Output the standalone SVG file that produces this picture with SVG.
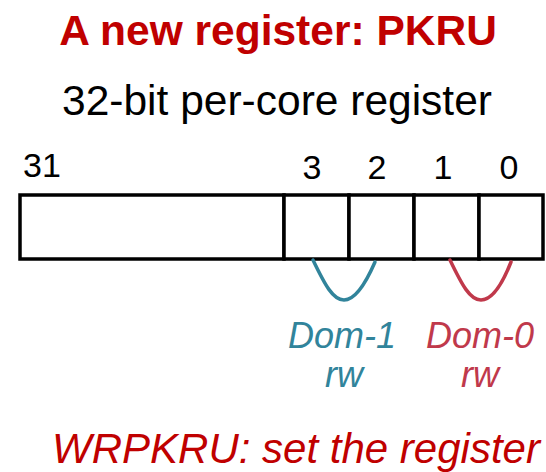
<svg xmlns="http://www.w3.org/2000/svg" width="546" height="472" viewBox="0 0 546 472">
  <style>
    text { font-family: "Liberation Sans", Arial, sans-serif; }
    .title { font-size: 42.5px; font-weight: bold; fill: #c00000; text-anchor: middle; }
    .sub { font-size: 42.5px; fill: #000; text-anchor: middle; }
    .bit { font-size: 34px; fill: #000; text-anchor: middle; }
    .cell { fill: #fff; stroke: #000; stroke-width: 3.5; }
    .dom { font-size: 36px; font-style: italic; text-anchor: middle; }
    .d1 { fill: #31849b; }
    .d0 { fill: #c0394b; }
    .arc { fill: none; stroke-width: 3.5; stroke-linecap: round; }
    .note { font-size: 42px; font-style: italic; fill: #c00000; text-anchor: middle; }
  </style>

  <g id="title">
    <text class="title" x="278" y="45">A new register: PKRU</text>
  </g>
  <g id="subtitle">
    <text class="sub" x="277" y="115">32-bit per-core register</text>
  </g>

  <!-- bit numbers -->
  <g id="bit-labels">
    <text class="bit" x="42" y="177">31</text>
    <text class="bit" x="312" y="179">3</text>
    <text class="bit" x="377" y="179">2</text>
    <text class="bit" x="443" y="179">1</text>
    <text class="bit" x="509" y="179">0</text>
  </g>

  <!-- PKRU register cells -->
  <g id="register">
    <rect class="cell" x="20" y="195" width="264" height="64"/>
    <rect class="cell" x="284" y="195" width="65" height="64"/>
    <rect class="cell" x="349" y="195" width="65" height="64"/>
    <rect class="cell" x="414" y="195" width="65" height="64"/>
    <rect class="cell" x="479" y="195" width="64" height="64"/>
  </g>

  <!-- domain brackets -->
  <g id="connectors">
    <path class="arc" stroke="#31849b" d="M313,260 C325,285 333,300 344,300 C355,300 365,285 375,262"/>
    <path class="arc" stroke="#c0394b" d="M450,260 C462,285 470,300 481,300 C492,300 502,285 511,262"/>
  </g>

  <g id="dom1">
    <text class="dom d1" x="342" y="348">Dom-1</text>
    <text class="dom d1" x="344" y="387">rw</text>
  </g>
  <g id="dom0">
    <text class="dom d0" x="480" y="348">Dom-0</text>
    <text class="dom d0" x="480" y="387">rw</text>
  </g>

  <g id="wrpkru">
    <text class="note" x="296" y="463">WRPKRU: set the register</text>
  </g>
</svg>
